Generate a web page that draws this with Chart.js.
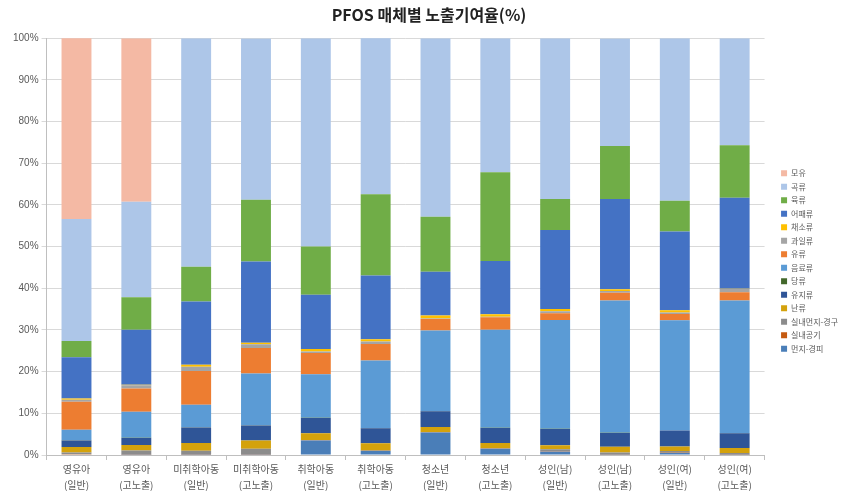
<!DOCTYPE html>
<html>
<head>
<meta charset="utf-8">
<script src="https://cdn.jsdelivr.net/npm/chart.js@4/dist/chart.umd.min.js"></script>
<style>
  html, body { margin: 0; padding: 0; background: #fff; }
  #wrap { width: 849px; height: 494px; position: relative; }
</style>
</head>
<body>
<div id="wrap"><canvas id="chart"></canvas></div>
<script>
  const categories = [
    ["영유아", "(일반)"], ["영유아", "(고노출)"],
    ["미취학아동", "(일반)"], ["미취학아동", "(고노출)"],
    ["취학아동", "(일반)"], ["취학아동", "(고노출)"],
    ["청소년", "(일반)"], ["청소년", "(고노출)"],
    ["성인(남)", "(일반)"], ["성인(남)", "(고노출)"],
    ["성인(여)", "(일반)"], ["성인(여)", "(고노출)"]
  ];

  // series, bottom of the stack first
  const dustSkin   = [0.1, 0.05, 0.05, 0.05, 3.5, 1.0, 5.4, 1.5, 0.8, 0.05, 0.5, 0.05];
  const indoorAir  = [0.1, 0.05, 0.05, 0.05, 0.05, 0.05, 0.05, 0.05, 0.05, 0.05, 0.05, 0.05];
  const indoorDust = [0.4, 1.0, 0.9, 1.4, 0.05, 0.05, 0.05, 0.05, 0.5, 0.5, 0.4, 0.4];
  const eggs       = [1.3, 1.3, 1.9, 2.0, 1.6, 1.7, 1.2, 1.3, 1.0, 1.4, 1.1, 1.2];
  const fats       = [1.6, 1.7, 3.7, 3.6, 3.7, 3.6, 3.8, 3.6, 3.9, 3.3, 3.8, 3.5];
  const sugars     = [0.05, 0.05, 0.05, 0.05, 0.05, 0.05, 0.05, 0.05, 0.05, 0.05, 0.05, 0.05];
  const drinks     = [2.5, 6.2, 5.4, 12.4, 10.4, 16.2, 19.3, 23.5, 26.1, 31.7, 26.4, 31.8];
  const dairy      = [6.7, 5.6, 8.1, 6.1, 5.1, 4.0, 2.8, 3.0, 1.6, 1.9, 1.5, 2.0];
  const fruits     = [0.5, 0.8, 1.0, 0.9, 0.4, 0.6, 0.1, 0.1, 0.5, 0.4, 0.4, 0.8];
  const vegetables = [0.3, 0.1, 0.5, 0.4, 0.6, 0.5, 0.7, 0.6, 0.5, 0.4, 0.5, 0.05];
  const seafood    = [9.9, 13.2, 15.2, 19.5, 13.0, 15.3, 10.5, 12.8, 19.0, 21.7, 18.9, 21.8];
  const meat       = [3.9, 7.8, 8.3, 14.8, 11.6, 19.5, 13.2, 21.3, 7.4, 12.7, 7.4, 12.6];
  const grains     = [29.3, 22.9, 54.85, 38.7, 49.95, 37.5, 42.85, 32.15, 38.6, 25.8, 39.0, 25.7];
  const breastMilk = [43.4, 39.25, 0, 0, 0, 0, 0, 0, 0, 0, 0, 0];

  const yTicks = [0, 10, 20, 30, 40, 50, 60, 70, 80, 90, 100];

  const series = [
    { label: "먼지-경피", data: dustSkin, color: "#4A7EB8" },
    { label: "실내공기", data: indoorAir, color: "#C55A11" },
    { label: "실내먼지-경구", data: indoorDust, color: "#8C8C8C" },
    { label: "난류", data: eggs, color: "#D4A20C" },
    { label: "유지류", data: fats, color: "#2F5597" },
    { label: "당류", data: sugars, color: "#43682B" },
    { label: "음료류", data: drinks, color: "#5B9BD5" },
    { label: "유류", data: dairy, color: "#ED7D31" },
    { label: "과일류", data: fruits, color: "#A5A5A5" },
    { label: "채소류", data: vegetables, color: "#FFC000" },
    { label: "어패류", data: seafood, color: "#4472C4" },
    { label: "육류", data: meat, color: "#70AD47" },
    { label: "곡류", data: grains, color: "#ADC6E8" },
    { label: "모유", data: breastMilk, color: "#F4B9A4" }
  ];

  const KR = "'Noto Sans CJK KR', 'Noto Sans', sans-serif";
  const LEGEND_DX = 11;  // gap between plot and legend
  const LEGEND_DY = 12;  // legend sits a bit below the middle

  // widen the legend box and nudge its drawing so it sits like the original
  const legendNudge = {
    id: "legendNudge",
    beforeInit(chart) {
      const lg = chart.legend;
      if (!lg) return;
      const fit = lg.fit;
      lg.fit = function () {
        fit.call(this);
        this.width += LEGEND_DX;
      };
      const draw = lg.draw;
      lg.draw = function () {
        const ctx = this.ctx;
        ctx.save();
        ctx.translate(LEGEND_DX, LEGEND_DY);
        draw.call(this);
        ctx.restore();
      };
    }
  };

  new Chart(document.getElementById("chart"), {
    type: "bar",
    data: {
      labels: categories,
      datasets: series.map((s) => ({
        label: s.label,
        data: s.data,
        backgroundColor: s.color,
        borderWidth: 0,
        barPercentage: 0.5,
        categoryPercentage: 1.0
      }))
    },
    options: {
      responsive: true,
      maintainAspectRatio: false,
      animation: false,
      layout: { padding: { left: 10, right: 1, top: 4, bottom: 0 } },
      plugins: {
        title: {
          display: true,
          text: "PFOS 매체별 노출기여율(%)",
          color: "#222",
          font: { family: KR, size: 16, weight: "bold" },
          padding: { top: 1, bottom: 14 }
        },
        legend: {
          position: "right",
          reverse: true,
          labels: {
            boxWidth: 6,
            boxHeight: 6,
            padding: 5.5,
            color: "#595959",
            font: { family: KR, size: 8 }
          }
        },
        tooltip: { enabled: false }
      },
      scales: {
        x: {
          stacked: true,
          grid: { offset: true, drawOnChartArea: false, tickLength: 5, color: "#BFBFBF" },
          border: { color: "#BFBFBF" },
          ticks: {
            color: "#595959",
            padding: 1,
            font: { family: KR, size: 10, lineHeight: 1.6 },
            maxRotation: 0,
            autoSkip: false
          }
        },
        y: {
          stacked: true,
          min: 0,
          max: 100,
          afterBuildTicks: (axis) => { axis.ticks = yTicks.map((v) => ({ value: v })); },
          grid: { color: "#D9D9D9", tickLength: 5 },
          border: { color: "#BFBFBF" },
          ticks: {
            color: "#595959",
            padding: 3,
            font: { family: "'Liberation Sans', Arial, sans-serif", size: 10 },
            callback: (v) => v + "%"
          }
        }
      }
    },
    plugins: [legendNudge]
  });
</script>
</body>
</html>
